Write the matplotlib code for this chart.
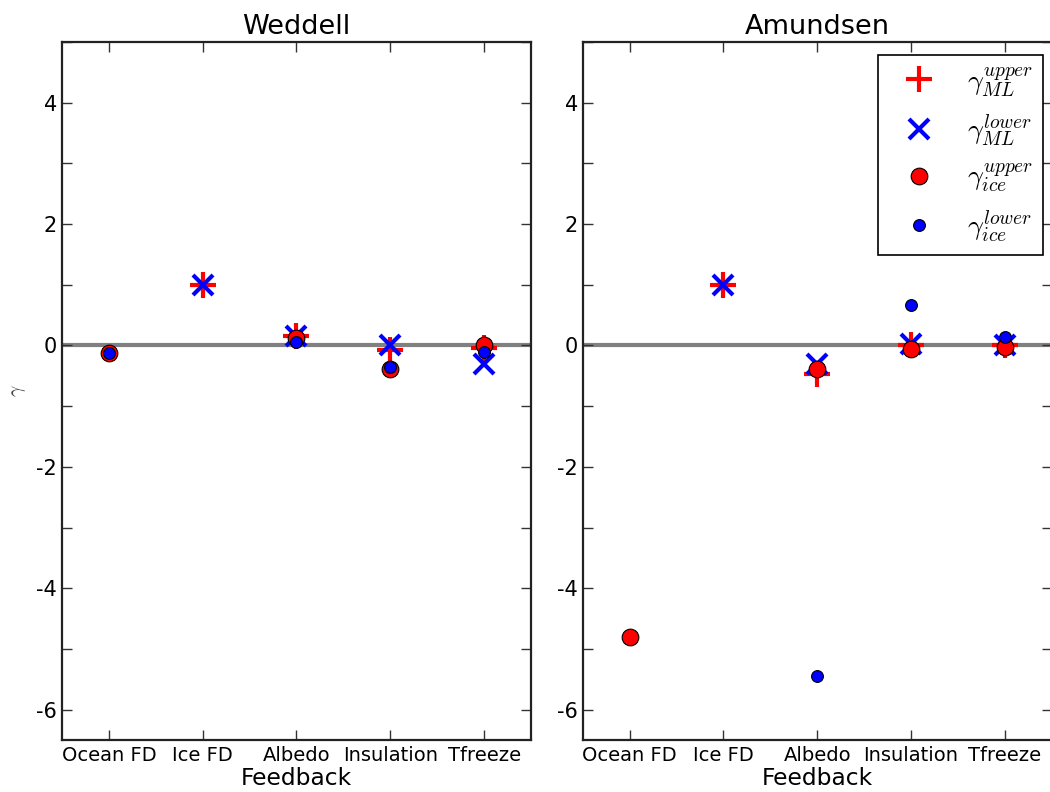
import numpy as np
import matplotlib
matplotlib.use("Agg")
import matplotlib.pyplot as plt
from matplotlib.ticker import MultipleLocator

plt.rcParams['mathtext.fontset'] = 'cm'
plt.rcParams['font.family'] = ['DejaVu Sans']
plt.rcParams['axes.unicode_minus'] = False

categories = ["Ocean FD", "Ice FD", "Albedo", "Insulation", "Tfreeze"]
titles = ["Weddell", "Amundsen"]

# Weddell
wed_ml_upper = [np.nan, 1.0, 0.16, -0.07, -0.05]
wed_ml_lower = [np.nan, 1.0, 0.15, 0.0, -0.30]
wed_ice_upper = [-0.13, np.nan, 0.12, -0.38, 0.0]
wed_ice_lower = [-0.13, np.nan, 0.05, -0.36, -0.11]

# Amundsen
amu_ml_upper = [np.nan, 1.0, -0.47, 0.0, 0.0]
amu_ml_lower = [np.nan, 1.0, -0.30, 0.02, 0.0]
amu_ice_upper = [-4.80, np.nan, -0.38, -0.06, -0.03]
amu_ice_lower = [np.nan, np.nan, -5.45, 0.67, 0.14]

data = [
    (wed_ml_upper, wed_ml_lower, wed_ice_upper, wed_ice_lower),
    (amu_ml_upper, amu_ml_lower, amu_ice_upper, amu_ice_lower),
]

fig = plt.figure(figsize=(10.5, 7.92), dpi=100)
positions = [[0.059, 0.0657, 0.4467, 0.8813], [0.555, 0.0657, 0.4467, 0.8813]]
x = np.arange(1, len(categories) + 1)

for i, (pos, title, (mlu, mll, iu, il)) in enumerate(zip(positions, titles, data)):
    ax = fig.add_axes(pos)
    ax.axhline(0, color='#808080', lw=3, zorder=1)
    ax.plot(x, mlu, '+', color='red', ms=19, mew=3, ls='none', zorder=2,
            label=r'$\gamma_{ML}^{upper}$')
    ax.plot(x, mll, 'x', color='blue', ms=15, mew=3, ls='none', zorder=3,
            label=r'$\gamma_{ML}^{lower}$')
    ax.plot(x, iu, 'o', color='red', mec='black', mew=0.8, ms=12, ls='none', zorder=4,
            label=r'$\gamma_{ice}^{upper}$')
    ax.plot(x, il, 'o', color='blue', mec='black', mew=0.8, ms=8.5, ls='none', zorder=5,
            label=r'$\gamma_{ice}^{lower}$')
    ax.set_xlim(0.5, 5.5)
    ax.set_ylim(-6.5, 5)
    ax.set_xticks(x)
    ax.set_xticklabels(categories, fontsize=14)
    ax.yaxis.set_major_locator(MultipleLocator(2))
    ax.yaxis.set_minor_locator(MultipleLocator(1))
    ax.tick_params(axis='y', which='major', labelsize=15, direction='in', length=7,
                   width=1, right=True, left=True, color='#333333')
    ax.tick_params(axis='y', which='minor', direction='in', length=7, width=1,
                   right=True, left=True, color='#333333')
    ax.tick_params(axis='x', direction='in', length=7, width=1, top=True, bottom=True,
                   color='#333333', pad=4)
    for s in ax.spines.values():
        s.set_linewidth(1.6)
        s.set_color('#222222')
    ax.set_title(title, fontsize=19.5, pad=6)
    ax.set_xlabel("Feedback", fontsize=16.8, labelpad=2)
    if i == 0:
        ax.set_ylabel(r'$\gamma$', fontsize=14, color='#444444', labelpad=6)
    else:
        leg = ax.legend(loc='upper right', numpoints=1, fontsize=20, fancybox=False,
                        framealpha=1, edgecolor='black', borderpad=0.35,
                        labelspacing=0.48, handletextpad=0.65, handlelength=2.2,
                        borderaxespad=0.0, bbox_to_anchor=(0.982, 0.981))
        leg.get_frame().set_linewidth(1.2)

fig.savefig("out.png", dpi=100)
